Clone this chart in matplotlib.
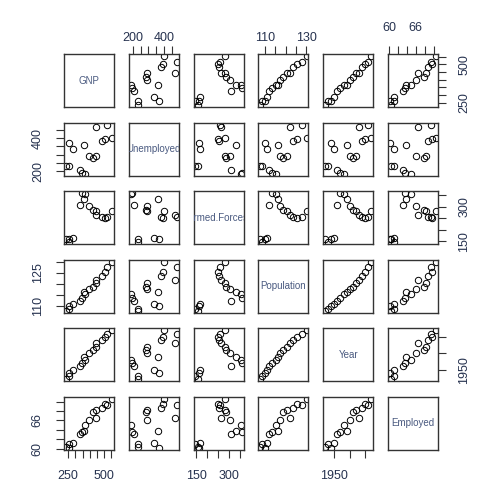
import numpy as np
import matplotlib
matplotlib.use('Agg')
import matplotlib.pyplot as plt

plt.rcParams['font.family'] = 'sans-serif'
plt.rcParams['font.sans-serif'] = ['Liberation Sans', 'DejaVu Sans']

# ── Data (longley) ────────────────────────────────────────────────────────────
names = ['GNP', 'Unemployed', 'Armed.Forces', 'Population', 'Year', 'Employed']

gnp = [234.289, 259.426, 258.054, 284.599, 328.975, 346.999, 365.385, 363.112,
       397.469, 419.180, 442.769, 444.546, 482.704, 502.601, 518.173, 554.894]
unemployed = [235.6, 232.5, 368.2, 335.1, 209.9, 193.2, 187.0, 357.8,
              290.4, 282.2, 293.6, 468.1, 381.3, 393.1, 480.6, 400.7]
armed_forces = [159.0, 145.6, 161.6, 165.0, 309.9, 359.4, 354.7, 335.0,
                304.8, 285.7, 279.8, 263.7, 255.2, 251.4, 257.2, 282.7]
population = [107.608, 108.632, 109.773, 110.929, 112.075, 113.270, 115.094, 116.219,
              117.388, 118.734, 120.445, 121.950, 123.366, 125.368, 127.852, 130.081]
year = [1947, 1948, 1949, 1950, 1951, 1952, 1953, 1954,
        1955, 1956, 1957, 1958, 1959, 1960, 1961, 1962]
employed = [60.323, 61.122, 60.171, 61.187, 63.221, 63.639, 64.989, 63.761,
            66.019, 67.857, 68.169, 66.513, 68.655, 69.564, 69.331, 70.551]

columns = [gnp, unemployed, armed_forces, population, year, employed]

# ticks and the labels R kept after dropping overlapping ones
ticks = [
    [250, 300, 350, 400, 450, 500, 550],
    [200, 250, 300, 350, 400, 450],
    [150, 200, 250, 300, 350],
    [110, 115, 120, 125, 130],
    [1950, 1955, 1960],
    [60, 62, 64, 66, 68, 70],
]
shown = [
    [250, 500],
    [200, 400],
    [150, 300],
    [110, 130],
    [1950],
    [60, 66],
]
shown_left = {3: [110, 125]}

# ── Layout (pixel geometry of the R device) ──────────────────────────────────
W, H = 480, 501
x0, dx, pw = 64, 64.8, 50
y0, dy, ph = 54, 68.6, 53
n = len(names)

TXT = '#26324f'
EDGE = '#333333'

fig = plt.figure(figsize=(W / 100, H / 100), dpi=100)


def labels_for(vals, keep):
    return [str(v) if v in keep else '' for v in vals]


def rlim(vals):
    # R's default xaxs="r": data range extended by 4% each side
    lo, hi = min(vals), max(vals)
    pad = 0.04 * (hi - lo)
    return lo - pad, hi + pad


for r in range(n):
    for c in range(n):
        left = (x0 + c * dx) / W
        bottom = 1 - (y0 + r * dy + ph) / H
        ax = fig.add_axes([left, bottom, pw / W, ph / H])
        xs, ys = columns[c], columns[r]
        for s in ax.spines.values():
            s.set_color(EDGE)
            s.set_linewidth(1.0)
        ax.tick_params(length=5.5, width=0.8, color=EDGE, labelsize=9,
                       labelcolor=TXT, pad=2,
                       bottom=False, top=False, left=False, right=False,
                       labelbottom=False, labeltop=False,
                       labelleft=False, labelright=False)
        ax.set_xticks([])
        ax.set_yticks([])

        if r == c:
            ax.text(0.5, 0.5, names[r], transform=ax.transAxes,
                    ha='center', va='center', fontsize=7, color='#4a5a80',
                    clip_on=True)
        else:
            ax.plot(xs, ys, 'o', mfc='none', mec='black', ms=4.6,
                    mew=0.7, clip_on=True)

        # top axis on even columns (1-based), bottom on odd
        if r == 0 and c % 2 == 1:
            ax.set_xticks(ticks[c])
            ax.set_xticklabels(labels_for(ticks[c], shown[c]))
            ax.tick_params(top=True, labeltop=True)
        if r == n - 1 and c % 2 == 0:
            ax.set_xticks(ticks[c])
            ax.set_xticklabels(labels_for(ticks[c], shown[c]))
            ax.tick_params(bottom=True, labelbottom=True, pad=9)
        # left axis on even rows, right on odd
        if c == 0 and r % 2 == 1:
            ax.set_yticks(ticks[r])
            ax.set_yticklabels(labels_for(ticks[r], shown_left.get(r, shown[r])),
                               rotation=90, va='center')
            ax.tick_params(left=True, labelleft=True, pad=9)
        if c == n - 1 and r % 2 == 0:
            ax.set_yticks(ticks[r])
            ax.set_yticklabels(labels_for(ticks[r], shown[r]),
                               rotation=90, va='center')
            ax.tick_params(right=True, labelright=True, pad=9)
        ax.set_xlim(*rlim(xs))
        ax.set_ylim(*rlim(ys))

fig.savefig('out.png', dpi=100)
